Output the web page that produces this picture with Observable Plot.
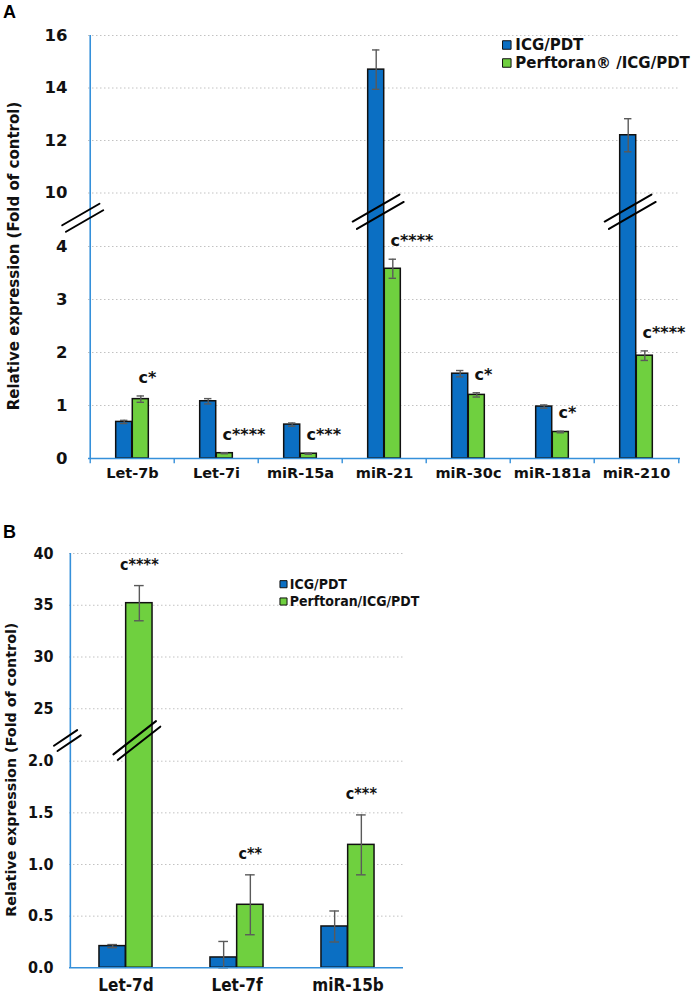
<!DOCTYPE html>
<html>
<head>
<meta charset="utf-8">
<script src="https://cdn.jsdelivr.net/npm/d3@7"></script>
<script src="https://cdn.jsdelivr.net/npm/@observablehq/plot@0.6"></script>
<style>
  html, body { margin: 0; padding: 0; background: #fff; }
  #wrap { position: relative; width: 699px; height: 994px; overflow: hidden; }
  #wrap svg { display: block; }
  .panel-label { position: absolute; left: 3px; font: bold 18px "Liberation Sans", Arial, sans-serif; line-height: 18px; color: #000; }
</style>
</head>
<body>
<div id="wrap"></div>
<script>
// ---------------- DATA ----------------
// Panel A
const genesA = ["Let-7b", "Let-7i", "miR-15a", "miR-21", "miR-30c", "miR-181a", "miR-210"];
const icgA = [0.69, 1.08, 0.64, 14.7, 1.60, 0.98, 12.2];
const icgErrA = [0.03, 0.05, 0.03, 0.75, 0.06, 0.03, 0.63];
const perfA = [1.12, 0.10, 0.09, 3.58, 1.20, 0.50, 1.94];
const perfErrA = [0.06, 0.01, 0.01, 0.18, 0.04, 0.015, 0.09];
const sigA = ["c*", "c****", "c***", "c****", "c*", "c*", "c****"];
const ticksA = [0, 1, 2, 3, 4, 10, 12, 14, 16];
const seriesA = ["ICG/PDT", "Perftoran® /ICG/PDT"];
const brokenA = ["miR-21", "miR-210"];
const yLabel = "Relative expression (Fold of control)";

// Panel B
const genesB = ["Let-7d", "Let-7f", "miR-15b"];
const icgB = [0.21, 0.10, 0.40];
const icgErrB = [0.015, 0.155, 0.15];
const perfB = [35.2, 0.61, 1.19];
const perfErrB = [1.7, 0.29, 0.29];
const sigB = ["c****", "c**", "c***"];
const ticksB = [0, 0.5, 1.0, 1.5, 2.0, 25, 30, 35, 40];
const seriesB = ["ICG/PDT", "Perftoran/ICG/PDT"];
const brokenB = ["Let-7d"];

// ---------------- STYLE / LAYOUT ----------------
const W = 699;
const blue = "#0b6fc3", green = "#6fd03f", axisBlue = "#3590da";
const errGray = "#5a5a5a", gridGray = "#c2c2c2", outline = "#111";
const fontA = "'DejaVu Sans', Verdana, sans-serif";
const fontB = "'Liberation Sans Narrow', 'Arial Narrow', 'DejaVu Sans Condensed', 'Liberation Sans', sans-serif";

const slash = { draw(ctx, l) { ctx.moveTo(0, 0); ctx.lineTo(0, -l); } };
function breakMarks(data, { y, dx = 0, dy = 0, length, rotate, gap, width = 2 }) {
  const r = rotate * Math.PI / 180;
  const ox = Math.cos(r) * gap / 2, oy = Math.sin(r) * gap / 2;
  return [-1, 1].map(s => Plot.vector(data, {
    x: d => d, y: () => y, length, rotate, anchor: "middle", shape: slash,
    stroke: "#000", strokeWidth: width, dx: dx + s * ox, dy: dy + s * oy
  }));
}

function rowsOf(genes, icg, icgErr, perf, perfErr, sig) {
  return genes.map((gene, i) => ({ gene, icg: icg[i], icgErr: icgErr[i], perf: perf[i], perfErr: perfErr[i], sig: sig[i] }));
}

function barMarks(rows, bw, w, cap, strokeW) {
  const half = bw / 2;
  const mk = (key, errKey, fill, side) => {
    const insL = side < 0 ? half - w : half;
    const insR = side < 0 ? half : half - w;
    const c = half + side * w / 2; // bar centre from band start
    const capL = c - cap / 2, capR = bw - c - cap / 2;
    return [
      Plot.barY(rows, { x: "gene", y: key, fill, stroke: outline, strokeWidth: strokeW, insetLeft: insL, insetRight: insR }),
      Plot.ruleX(rows, { x: "gene", y1: d => Math.max(0, d[key] - d[errKey]), y2: d => d[key] + d[errKey], dx: side * w / 2, stroke: errGray, strokeWidth: 1.4 }),
      Plot.tickY(rows, { x: "gene", y: d => d[key] + d[errKey], insetLeft: capL, insetRight: capR, stroke: errGray, strokeWidth: 1.4 }),
      Plot.tickY(rows, { x: "gene", y: d => Math.max(0, d[key] - d[errKey]), insetLeft: capL, insetRight: capR, stroke: errGray, strokeWidth: 1.4 })
    ];
  };
  return [mk("icg", "icgErr", blue, -1), mk("perf", "perfErr", green, 1)];
}

function legendMarks(series, { dx, dy, step, r, textDx, fontSize, fontFamily }) {
  const fills = [blue, green];
  return series.map((s, i) => [
    Plot.dot([s], { frameAnchor: "top-left", dx, dy: dy + i * step, symbol: "square", r, fill: fills[i], stroke: "#111", strokeWidth: 1 }),
    Plot.text([s], { frameAnchor: "top-left", dx: dx + textDx, dy: dy + i * step, text: d => d, textAnchor: "start", lineAnchor: "middle", fontSize, fontFamily, fontWeight: "bold", fill: "#111" })
  ]);
}

// ---------------- PANEL A ----------------
const LA = { height: 500, mt: 35, mb: 42, ml: 88, mr: 19, barW: 16.6, cap: 8 };
const bwA = (W - LA.ml - LA.mr) / genesA.length;
const y0A = LA.height - LA.mb;
const breakA = [4.3, 9.4];          // axis break (data units)
const pxLowA = 53, pxHighA = 26.25; // pixels per unit below / above the break
const domA = [0, breakA[0], breakA[1], 16];
const rangeA = [y0A, y0A - breakA[0] * pxLowA, LA.mt + (16 - breakA[1]) * pxHighA, LA.mt];
const rowsA = rowsOf(genesA, icgA, icgErrA, perfA, perfErrA, sigA);

const plotA = Plot.plot({
  width: W, height: LA.height,
  marginTop: LA.mt, marginBottom: LA.mb, marginLeft: LA.ml, marginRight: LA.mr,
  style: { fontFamily: fontA, fontWeight: "bold", color: "#000", background: "#fff", overflow: "visible" },
  x: { type: "band", domain: genesA, padding: 0 },
  y: { type: "linear", domain: domA, range: rangeA },
  marks: [
    Plot.gridY(ticksA.filter(t => t > 0), { stroke: gridGray, strokeOpacity: 1, strokeDasharray: "1.5,2.5", strokeWidth: 1 }),
    barMarks(rowsA, bwA, LA.barW, LA.cap, 1.5),
    Plot.ruleX([genesA[0]], { x: d => d, dx: -bwA / 2, stroke: axisBlue, strokeWidth: 1.6 }),
    Plot.ruleY([0], { stroke: axisBlue, strokeWidth: 1.6 }),
    Plot.ruleX(genesA, { x: d => d, dx: -bwA / 2, y1: () => 0, y2: () => -0.1, stroke: axisBlue, strokeWidth: 1.4 }),
    Plot.ruleX([genesA[genesA.length - 1]], { x: d => d, dx: bwA / 2, y1: () => 0, y2: () => -0.1, stroke: axisBlue, strokeWidth: 1.4 }),
    breakMarks([genesA[0]], { y: 7.3, dx: -bwA / 2 - 7.5, length: 43, rotate: 60, gap: 7.5 }),
    breakMarks(brokenA, { y: 8.7, dx: -LA.barW / 2 + 2, length: 54, rotate: 60, gap: 8.5 }),
    Plot.text(rowsA, { x: "gene", y: d => d.perf + d.perfErr, text: "sig", dx: 6, dy: -18, textAnchor: "start", fontSize: 16, fontWeight: "bold", fontFamily: fontA, fill: "#111" }),
    Plot.axisY(ticksA, { tickSize: 0, tickPadding: 21, fontSize: 16.5, fontWeight: "bold", fontFamily: fontA, fill: "#111", label: null, tickFormat: d => String(d) }),
    Plot.axisX({ tickSize: 0, tickPadding: 9, fontSize: 14.5, fontWeight: "bold", fontFamily: fontA, fill: "#111", label: null }),
    Plot.text([yLabel], { frameAnchor: "left", dx: 14 - LA.ml, dy: 9, rotate: -90, textAnchor: "middle", lineAnchor: "middle", text: d => d, fontSize: 15, fontWeight: "bold", fontFamily: fontA, fill: "#111" }),
    legendMarks(seriesA, { dx: 418.3, dy: 9.5, step: 18, r: 4.8, textDx: 8.5, fontSize: 15, fontFamily: fontA })
  ]
});

// ---------------- PANEL B ----------------
const LB = { height: 494, mt: 53, mb: 26.7, ml: 69, mr: 296, barW: 26.7, cap: 10 };
const bwB = (W - LB.ml - LB.mr) / genesB.length;
const y0B = LB.height - LB.mb;
const breakB = [2.2, 23.5];
const pxLowB = 103.3, pxHighB = 10.35;
const domB = [0, breakB[0], breakB[1], 40];
const rangeB = [y0B, y0B - breakB[0] * pxLowB, LB.mt + (40 - breakB[1]) * pxHighB, LB.mt];
const rowsB = rowsOf(genesB, icgB, icgErrB, perfB, perfErrB, sigB);

const plotB = Plot.plot({
  width: W, height: LB.height,
  marginTop: LB.mt, marginBottom: LB.mb, marginLeft: LB.ml, marginRight: LB.mr,
  style: { fontFamily: fontB, fontWeight: "bold", color: "#000", background: "#fff", overflow: "visible" },
  x: { type: "band", domain: genesB, padding: 0 },
  y: { type: "linear", domain: domB, range: rangeB },
  marks: [
    Plot.gridY(ticksB.filter(t => t > 0), { stroke: gridGray, strokeOpacity: 1, strokeDasharray: "1.5,2.5", strokeWidth: 1 }),
    barMarks(rowsB, bwB, LB.barW, LB.cap, 1.5),
    Plot.ruleX([genesB[0]], { x: d => d, dx: -bwB / 2, stroke: axisBlue, strokeWidth: 1.6 }),
    Plot.ruleY([0], { stroke: axisBlue, strokeWidth: 1.6 }),
    breakMarks([genesB[0]], { y: breakB[0], dx: -bwB / 2 - 3, length: 28, rotate: 56, gap: 6.4 }),
    breakMarks(brokenB, { y: breakB[0], dx: LB.barW / 2 - 2.5, length: 54, rotate: 52, gap: 7 }),
    Plot.text(rowsB, { x: "gene", y: d => d.perf + d.perfErr, text: "sig", dx: LB.barW / 2, dy: -21, textAnchor: "middle", fontSize: 16, fontWeight: "bold", fontFamily: fontB, fill: "#111" }),
    Plot.axisY(ticksB, { tickSize: 0, tickPadding: 16, fontSize: 16, fontWeight: "bold", fontFamily: fontB, fill: "#111", label: null, tickFormat: d => d < 5 ? d.toFixed(1) : String(d) }),
    Plot.axisX({ tickSize: 0, tickPadding: 11, fontSize: 17, fontWeight: "bold", fontFamily: fontB, fill: "#111", label: null }),
    Plot.text([yLabel], { frameAnchor: "left", dx: 11 - LB.ml, dy: 9, rotate: -90, textAnchor: "middle", lineAnchor: "middle", text: d => d, fontSize: 14.3, fontWeight: "bold", fontFamily: fontA, fill: "#111" }),
    legendMarks(seriesB, { dx: 214, dy: 30.7, step: 17.3, r: 4, textDx: 6.3, fontSize: 14, fontFamily: fontB })
  ]
});

const wrap = document.getElementById("wrap");
wrap.appendChild(plotA);
wrap.appendChild(plotB);
const la = document.createElement("div"); la.className = "panel-label"; la.style.top = "3px"; la.textContent = "A"; wrap.appendChild(la);
const lb = document.createElement("div"); lb.className = "panel-label"; lb.style.top = "523px"; lb.textContent = "B"; wrap.appendChild(lb);
</script>
</body>
</html>
